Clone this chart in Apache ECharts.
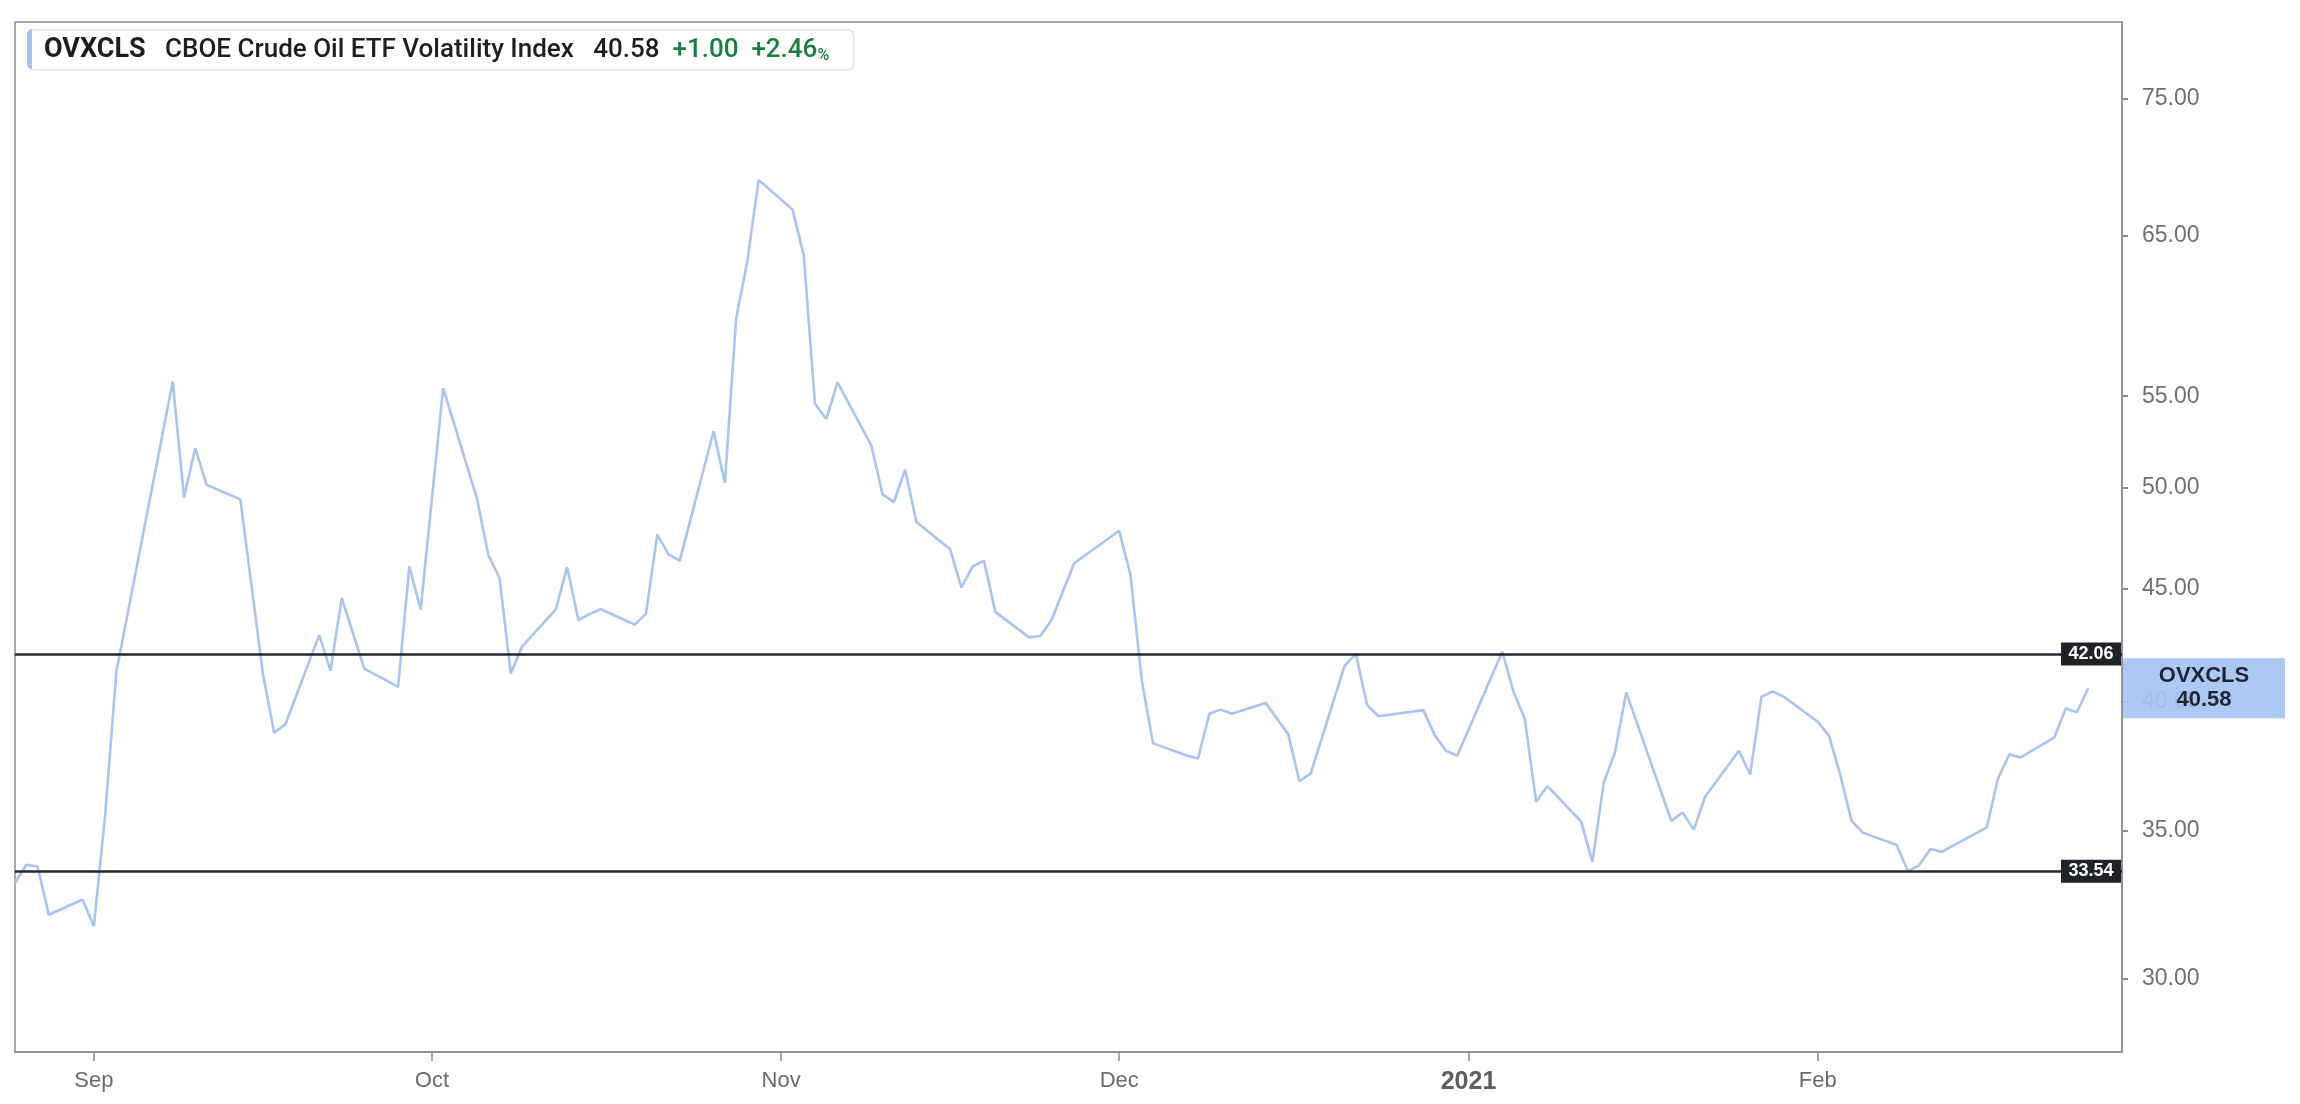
<!DOCTYPE html>
<html>
<head>
<meta charset="utf-8">
<style>
  html, body { margin: 0; padding: 0; background: #ffffff; }
  #chart { width: 2300px; height: 1104px; }
</style>
<script src="https://cdn.jsdelivr.net/npm/echarts@6/dist/echarts.min.js"></script>
</head>
<body>
<div id="chart"></div>
<script>
// ---- data ----
const dates = [
  '2020-08-25','2020-08-26','2020-08-27','2020-08-28','2020-08-31','2020-09-01','2020-09-02','2020-09-03',
  '2020-09-08','2020-09-09','2020-09-10','2020-09-11','2020-09-14','2020-09-16','2020-09-17','2020-09-18',
  '2020-09-21','2020-09-22','2020-09-23','2020-09-25','2020-09-28','2020-09-29','2020-09-30','2020-10-02',
  '2020-10-05','2020-10-06','2020-10-07','2020-10-08','2020-10-09','2020-10-12','2020-10-13','2020-10-14',
  '2020-10-15','2020-10-16','2020-10-19','2020-10-20','2020-10-21','2020-10-22','2020-10-23','2020-10-26',
  '2020-10-27','2020-10-28','2020-10-29','2020-10-30','2020-11-02','2020-11-03','2020-11-04','2020-11-05',
  '2020-11-06','2020-11-09','2020-11-10','2020-11-11','2020-11-12','2020-11-13','2020-11-16','2020-11-17',
  '2020-11-18','2020-11-19','2020-11-20','2020-11-23','2020-11-24','2020-11-25','2020-11-27','2020-12-01',
  '2020-12-02','2020-12-03','2020-12-04','2020-12-07','2020-12-08','2020-12-09','2020-12-10','2020-12-11',
  '2020-12-14','2020-12-16','2020-12-17','2020-12-18','2020-12-21','2020-12-22','2020-12-23','2020-12-24',
  '2020-12-28','2020-12-29','2020-12-30','2020-12-31','2021-01-04','2021-01-05','2021-01-06','2021-01-07',
  '2021-01-08','2021-01-11','2021-01-12','2021-01-13','2021-01-14','2021-01-15','2021-01-19','2021-01-20',
  '2021-01-21','2021-01-22','2021-01-25','2021-01-26','2021-01-27','2021-01-28','2021-01-29','2021-02-01',
  '2021-02-02','2021-02-03','2021-02-04','2021-02-05','2021-02-08','2021-02-09','2021-02-10','2021-02-11',
  '2021-02-12','2021-02-16','2021-02-17','2021-02-18','2021-02-19','2021-02-22','2021-02-23','2021-02-24',
  '2021-02-25'
];
const values = [
  33.14, 33.77, 33.71, 32.06, 32.57, 31.68, 35.56, 41.30,
  55.85, 49.50, 52.11, 50.16, 49.40, 41.21, 38.75, 39.09,
  42.89, 41.33, 44.58, 41.42, 40.64, 46.08, 44.05, 55.46,
  49.45, 46.63, 45.52, 41.21, 42.38, 44.06, 46.04, 43.57,
  43.85, 44.06, 43.36, 43.85, 47.62, 46.65, 46.35, 53.03,
  50.25, 59.64, 63.32, 68.89, 66.81, 63.70, 54.57, 53.71,
  55.80, 52.25, 49.66, 49.26, 50.95, 48.25, 46.90, 45.07,
  46.07, 46.35, 43.94, 42.79, 42.85, 43.58, 46.22, 47.81,
  45.67, 40.93, 38.32, 37.84, 37.72, 39.52, 39.69, 39.52,
  39.96, 38.69, 36.84, 37.14, 41.54, 42.06, 39.88, 39.42,
  39.67, 38.65, 38.03, 37.83, 42.15, 40.43, 39.30, 36.06,
  36.65, 35.32, 33.87, 36.78, 37.96, 40.41, 35.35, 35.66,
  35.03, 36.25, 38.03, 37.10, 40.22, 40.45, 40.22, 39.19,
  38.62, 37.07, 35.35, 34.92, 34.47, 33.54, 33.76, 34.33,
  34.23, 35.11, 36.95, 37.89, 37.76, 38.56, 39.74, 39.58,
  40.58
];
const xTickDates = ['2020-09-01','2020-10-01','2020-11-01','2020-12-01','2021-01-01','2021-02-01'];
const xTickLabels = ['Sep','Oct','Nov','Dec','2021','Feb'];
const yTickValues = [30, 35, 40, 45, 50, 55, 65, 75];
const levelValues = [42.06, 33.54];
const xRange = ['2020-08-25', '2021-02-28'];
const yRange = [27.79, 81.2];
const symbolName = 'OVXCLS';
const fullName = 'CBOE Crude Oil ETF Volatility Index';
const lastValue = 40.58;
const change = '+1.00';
const changePct = '+2.46';

// ---- helpers ----
function toTs(s) {
  const p = s.split('-').map(Number);
  return Date.UTC(p[0], p[1] - 1, p[2]);
}
const xTickTs = xTickDates.map(toTs);
const seriesData = dates.map((d, i) => [toTs(d), values[i]]);
const xMin = toTs(xRange[0]);
const xMax = toTs(xRange[1]);

const chart = echarts.init(document.getElementById('chart'), null, { renderer: 'canvas' });

const HF = 'Roboto, sans-serif';
const option = {
  backgroundColor: '#ffffff',
  animation: false,
  grid: {
    left: 15, right: 178, top: 22, bottom: 52,
    show: true, borderColor: '#8c8c8c', borderWidth: 1.5, backgroundColor: 'transparent'
  },
  xAxis: {
    type: 'value',
    min: xMin,
    max: xMax,
    axisLine: { show: true, onZero: false, lineStyle: { color: '#8c8c8c', width: 1.5 } },
    axisTick: { show: true, customValues: xTickTs, length: 9, lineStyle: { color: '#8c8c8c', width: 1.5 } },
    axisLabel: {
      customValues: xTickTs,
      margin: 18,
      color: '#6b6b6b',
      fontSize: 22,
      fontFamily: 'Liberation Sans, Arial, sans-serif',
      formatter: function (val) {
        const i = xTickTs.indexOf(val);
        if (i < 0) return '';
        const t = xTickLabels[i];
        return /^\d{4}$/.test(t) ? '{b|' + t + '}' : t;
      },
      rich: {
        b: { fontWeight: 'bold', fontSize: 25, color: '#5e5e5e', fontFamily: 'Liberation Sans, Arial, sans-serif' }
      }
    },
    splitLine: { show: false }
  },
  yAxis: {
    type: 'log',
    logBase: 10,
    position: 'right',
    min: yRange[0],
    max: yRange[1],
    axisLine: { show: true, lineStyle: { color: '#8c8c8c', width: 1.5 } },
    axisTick: { show: true, customValues: yTickValues, length: 6, lineStyle: { color: '#8c8c8c', width: 2 } },
    axisLabel: {
      customValues: yTickValues,
      margin: 20,
      color: '#707070',
      fontSize: 23,
      fontFamily: 'Liberation Sans, Arial, sans-serif',
      formatter: function (v) { return Number(v).toFixed(2); }
    },
    splitLine: { show: false }
  },
  series: [{
    type: 'line',
    data: seriesData,
    showSymbol: false,
    symbol: 'none',
    lineStyle: { color: '#a6c4f4', width: 2.6 },
    z: 3,
    markLine: {
      silent: true,
      symbol: ['none', 'none'],
      lineStyle: { color: '#23272d', width: 2.5, type: 'solid' },
      label: { show: false },
      data: levelValues.map(v => ({ yAxis: v }))
    },
    markPoint: {
      silent: true,
      z: 10,
      data: levelValues.map(v => ({
        coord: [xMax, v],
        value: v,
        symbol: 'rect',
        symbolSize: [60, 23],
        symbolOffset: [-31, 0],
        itemStyle: { color: '#1f2328' },
        label: {
          show: true, position: 'inside', formatter: v.toFixed(2),
          color: '#ffffff', fontSize: 18, fontWeight: 'bold',
          fontFamily: 'Liberation Sans, Arial, sans-serif'
        }
      })).concat([{
        coord: [xMax, lastValue],
        value: lastValue,
        symbol: 'rect',
        symbolSize: [162, 60],
        symbolOffset: [82, 0],
        itemStyle: { color: 'rgba(165,196,245,0.92)' },
        label: {
          show: true, position: 'inside',
          formatter: symbolName + '\n' + lastValue.toFixed(2),
          color: '#1d2533', fontSize: 22, fontWeight: 'bold', lineHeight: 24,
          fontFamily: 'Liberation Sans, Arial, sans-serif'
        }
      }])
    }
  }],
  graphic: [
    {
      type: 'rect', left: 27, top: 29, z: 100,
      shape: { width: 826, height: 40, r: 6 },
      style: { fill: '#ffffff', stroke: '#e3e3e3', lineWidth: 1.5 }
    },
    {
      type: 'rect', left: 27, top: 29, z: 101,
      shape: { width: 5, height: 40, r: [6, 0, 0, 6] },
      style: { fill: '#a6c4f4' }
    },
    {
      type: 'text', x: 44, y: 50, z: 102,
      style: {
        text: '{s|' + symbolName + '}   {n|' + fullName + '}   {v|' + lastValue.toFixed(2) + '}  {g|' + change + '}  {g|' + changePct + '}{p|%}',
        fontSize: 26, fontFamily: HF, fill: '#1e1e1e', fontWeight: 500,
        verticalAlign: 'middle', align: 'left',
        rich: {
          s: { fontSize: 27, fontWeight: 'bold', fontFamily: HF, fill: '#1e1e1e', lineHeight: 34 },
          n: { fontSize: 26, fontWeight: 500, fontFamily: HF, fill: '#1e1e1e', lineHeight: 34 },
          v: { fontSize: 26, fontWeight: 500, fontFamily: HF, fill: '#1e1e1e', lineHeight: 34 },
          g: { fontSize: 26, fontWeight: 500, fontFamily: HF, fill: '#17803d', lineHeight: 34 },
          p: { fontSize: 16, fontWeight: 500, fontFamily: HF, fill: '#17803d', lineHeight: 34, verticalAlign: 'bottom', padding: [0, 0, 3, 0] }
        }
      }
    }
  ]
};
chart.setOption(option);
</script>
</body>
</html>
